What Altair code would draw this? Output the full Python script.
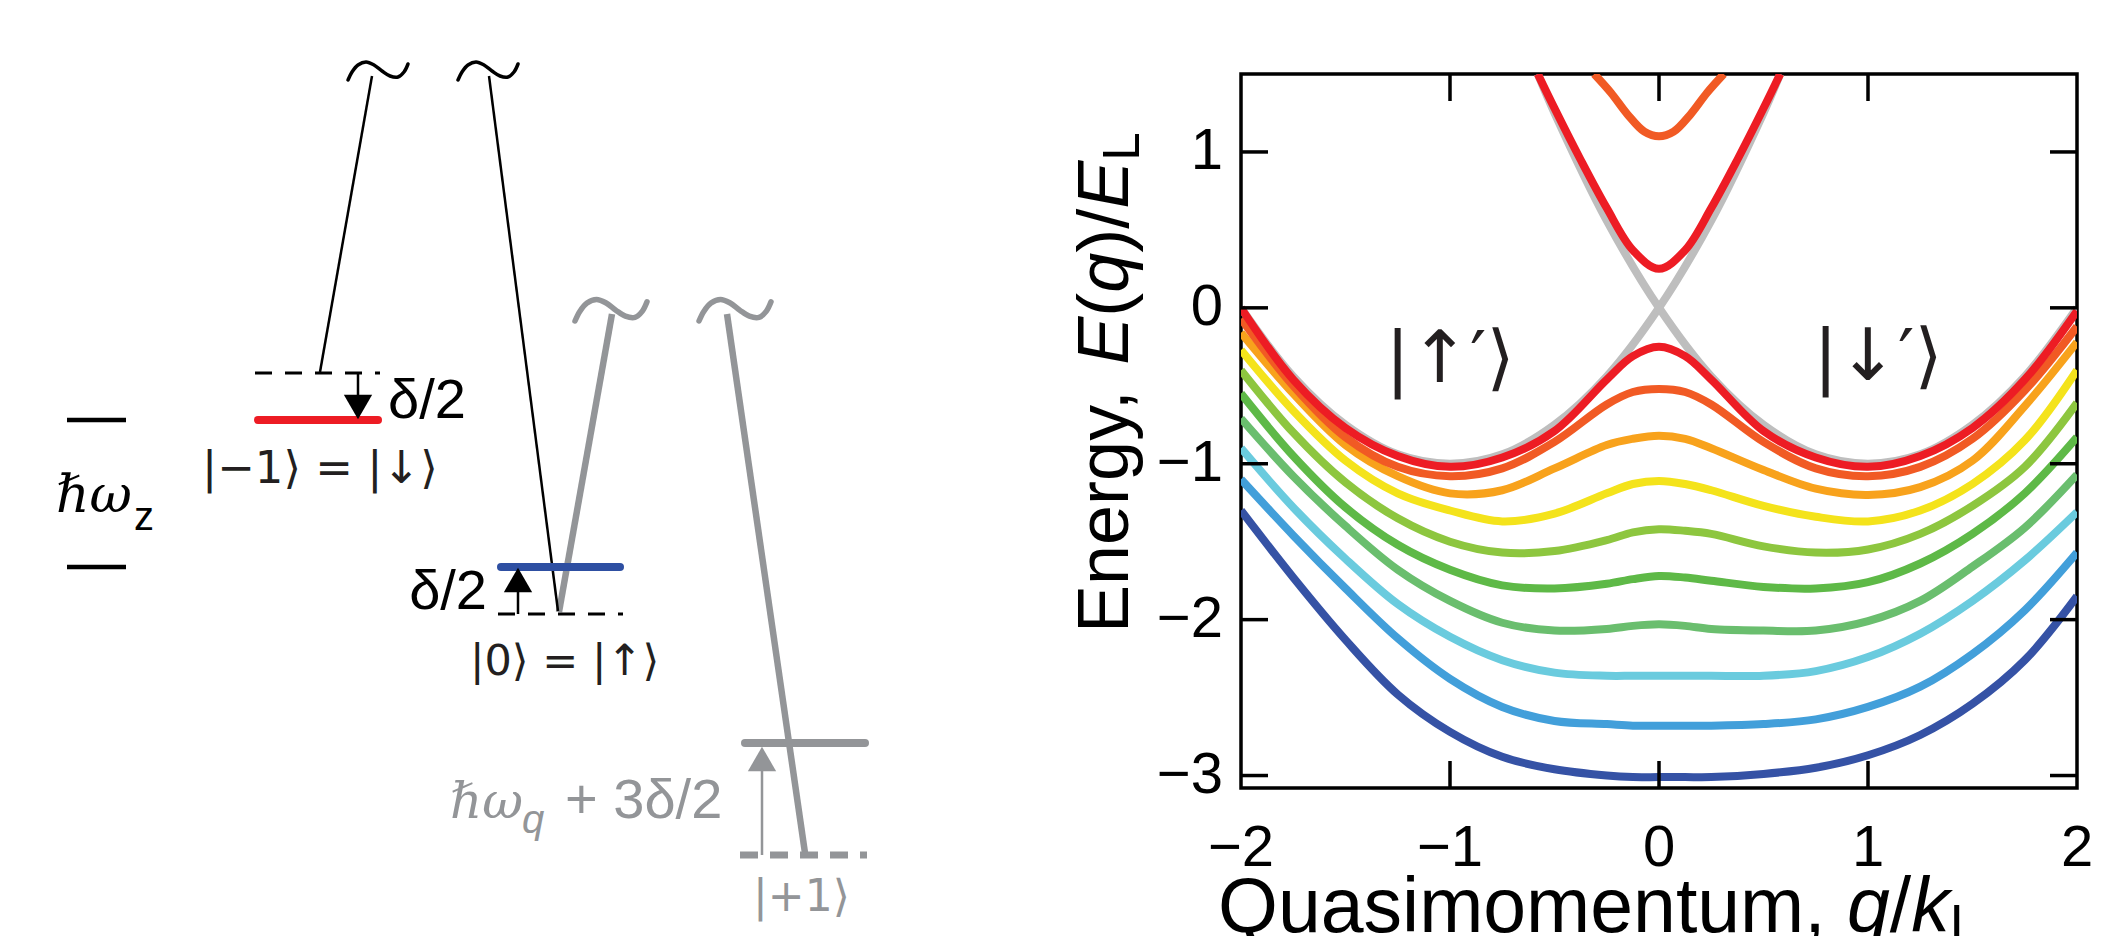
import altair as alt
import pandas as pd

# ---------------- band-structure data ----------------
Q = [-2, -1.75, -1.5, -1.25, -1, -0.75, -0.5, -0.25, -0.125, 0,
     0.125, 0.25, 0.5, 0.75, 1, 1.25, 1.5, 1.75, 2]

E_red     = [0.00, -0.46, -0.77, -0.95, -1.02, -0.96, -0.79, -0.46, -0.31, -0.25,
             -0.31, -0.46, -0.79, -0.96, -1.02, -0.95, -0.77, -0.46, -0.02]
E_redor   = [-0.07, -0.50, -0.83, -1.02, -1.08, -1.03, -0.86, -0.62, -0.54, -0.52,
             -0.54, -0.62, -0.86, -1.03, -1.08, -1.02, -0.84, -0.53, -0.12]
E_orange  = [-0.16, -0.55, -0.88, -1.08, -1.19, -1.17, -1.03, -0.88, -0.84, -0.82,
             -0.84, -0.90, -1.04, -1.16, -1.20, -1.15, -0.98, -0.63, -0.22]
E_yellow  = [-0.27, -0.66, -0.98, -1.19, -1.30, -1.37, -1.32, -1.19, -1.13, -1.11,
             -1.13, -1.17, -1.27, -1.34, -1.37, -1.30, -1.13, -0.85, -0.40]
E_ygreen  = [-0.40, -0.80, -1.12, -1.35, -1.50, -1.57, -1.56, -1.49, -1.44, -1.42,
             -1.43, -1.45, -1.53, -1.57, -1.55, -1.45, -1.27, -1.02, -0.61]
E_green   = [-0.55, -0.95, -1.28, -1.52, -1.68, -1.78, -1.80, -1.77, -1.74, -1.72,
             -1.73, -1.75, -1.79, -1.80, -1.76, -1.64, -1.45, -1.19, -0.83]
E_mgreen  = [-0.71, -1.08, -1.40, -1.68, -1.88, -2.02, -2.07, -2.06, -2.04, -2.03,
             -2.04, -2.06, -2.07, -2.07, -2.01, -1.88, -1.66, -1.41, -1.07]
E_lblue   = [-0.90, -1.28, -1.61, -1.90, -2.11, -2.26, -2.34, -2.36, -2.36, -2.36,
             -2.36, -2.36, -2.36, -2.33, -2.24, -2.09, -1.88, -1.62, -1.31]
E_blue    = [-1.10, -1.46, -1.80, -2.12, -2.38, -2.56, -2.65, -2.67, -2.68, -2.68,
             -2.68, -2.68, -2.67, -2.64, -2.56, -2.43, -2.22, -1.94, -1.57]
E_dblue   = [-1.30, -1.73, -2.13, -2.48, -2.72, -2.88, -2.96, -3.00, -3.01, -3.01,
             -3.01, -3.01, -2.99, -2.95, -2.87, -2.74, -2.54, -2.26, -1.85]

UP_RED_Q = [-0.58, -0.5, -0.375, -0.25, -0.125, 0, 0.125, 0.25, 0.375, 0.5, 0.58]
UP_RED_E = [1.50, 1.28, 0.95, 0.64, 0.37, 0.25, 0.37, 0.64, 0.95, 1.28, 1.50]
UP_OR_Q = [-0.31, -0.23, -0.15, -0.07, 0, 0.07, 0.15, 0.23, 0.31]
UP_OR_E = [1.50, 1.38, 1.24, 1.13, 1.10, 1.13, 1.24, 1.38, 1.50]

GRAY_UP_Q = [-2, -1.75, -1.5, -1.25, -1, -0.75, -0.5, -0.25, 0, 0.25, 0.5, 0.58]
GRAY_UP_E = [0, -0.44, -0.75, -0.94, -1.0, -0.94, -0.75, -0.44, 0, 0.56, 1.25, 1.5]
GRAY_DN_Q = [-0.58, -0.5, -0.25, 0, 0.25, 0.5, 0.75, 1, 1.25, 1.5, 1.75, 2]
GRAY_DN_E = [1.5, 1.25, 0.56, 0, -0.44, -0.75, -0.94, -1.0, -0.94, -0.75, -0.44, 0]

X_TICKS = [-1, 0, 1]
Y_TICKS = [-3, -2, -1, 0, 1]
X_LABEL_VALUES = [-2, -1, 0, 1, 2]
X_LABEL_TEXT = ["−2", "−1", "0", "1", "2"]
Y_LABEL_VALUES = [-3, -2, -1, 0, 1]
Y_LABEL_TEXT = ["−3", "−2", "−1", "0", "1"]

# ---------------- level-diagram geometry (page pixel positions) ----------------
SEG_BLACK_SHORT = [(67, 420, 126, 420), (67, 567, 126, 567)]
SEG_RED_LEVEL = [(258, 420, 378, 420)]
SEG_BLUE_LEVEL = [(501, 567, 620, 567)]
SEG_GRAY_LEVEL = [(745, 743, 865, 743)]
SEG_BLACK_THIN = [(372, 76, 320, 372), (489, 76, 558, 611),
                  (358, 373, 358, 400), (518, 614, 518, 590)]
SEG_GRAY_THICK = [(559, 612, 612, 314), (727, 314, 805, 853)]
SEG_GRAY_THIN = [(762, 855, 762, 768)]
SEG_BLACK_DASH = [(255, 373, 380, 373), (498, 614, 623, 614)]
SEG_GRAY_DASH = [(740, 855, 867, 855)]
ARROW_DOWN_BLACK = [(358, 407)]
ARROW_UP_BLACK = [(518, 580)]
ARROW_UP_GRAY = [(762, 759)]
TILDE_BLACK = [(378, 70), (488, 70)]
TILDE_GRAY = [(611, 309), (735, 309)]
# one wave of a tilde glyph, offsets from its centre
TILDE_DX = [-30, -26, -20, -12, -4, 4, 12, 20, 26, 30]
TILDE_DY = [10, 2, -5, -8, -5, 1, 6, 7, 2, -6]

FONT = "Liberation Sans"
KFONT = "DejaVu Sans"
GRAY = "#939598"

W, H = 836, 714
OX, OY = 1241, 74   # page position of the plot origin


def rx(v):
    return v - OX


def ry(v):
    return v - OY


xscale = alt.Scale(domain=[-2, 2], nice=False, zero=False)
yscale = alt.Scale(domain=[-3.08, 1.5], nice=False, zero=False)

layers = []


def curve(qs, es, color):
    df = pd.DataFrame({"q": qs, "E": es})
    return alt.Chart(df).mark_line(color=color, strokeWidth=8,
                                   interpolate="catmull-rom", clip=True).encode(
        x=alt.X("q:Q", scale=xscale, axis=None),
        y=alt.Y("E:Q", scale=yscale, axis=None))


layers.append(curve(GRAY_UP_Q, GRAY_UP_E, "#BEBEBE"))
layers.append(curve(GRAY_DN_Q, GRAY_DN_E, "#BEBEBE"))
for es, col in [(E_dblue, "#3552A5"), (E_blue, "#429FDA"), (E_lblue, "#6ACBDE"),
                (E_mgreen, "#6ABE6E"), (E_green, "#5EB947"), (E_ygreen, "#8DC63F"),
                (E_yellow, "#F4E31B"), (E_orange, "#F8A21C"), (E_redor, "#F15A24"),
                (E_red, "#ED1C24")]:
    layers.append(curve(Q, es, col))
layers.append(curve(UP_OR_Q, UP_OR_E, "#F15A24"))
layers.append(curve(UP_RED_Q, UP_RED_E, "#ED1C24"))

# inward ticks
TL = 27
dfy = pd.DataFrame({"v": Y_TICKS})
dfx = pd.DataFrame({"v": X_TICKS})
layers.append(alt.Chart(dfy).mark_rule(color="black", strokeWidth=3.5).encode(
    y=alt.Y("v:Q", scale=yscale, axis=None), x=alt.value(0), x2=alt.value(TL)))
layers.append(alt.Chart(dfy).mark_rule(color="black", strokeWidth=3.5).encode(
    y=alt.Y("v:Q", scale=yscale, axis=None), x=alt.value(W - TL), x2=alt.value(W)))
layers.append(alt.Chart(dfx).mark_rule(color="black", strokeWidth=3.5).encode(
    x=alt.X("v:Q", scale=xscale, axis=None), y=alt.value(H - TL), y2=alt.value(H)))
layers.append(alt.Chart(dfx).mark_rule(color="black", strokeWidth=3.5).encode(
    x=alt.X("v:Q", scale=xscale, axis=None), y=alt.value(0), y2=alt.value(TL)))

# tick labels (through the scales)
dfxl = pd.DataFrame({"v": X_LABEL_VALUES, "t": X_LABEL_TEXT})
dfyl = pd.DataFrame({"v": Y_LABEL_VALUES, "t": Y_LABEL_TEXT})
layers.append(alt.Chart(dfxl).mark_text(font=FONT, fontSize=58, color="black",
                                        align="center", baseline="alphabetic").encode(
    x=alt.X("v:Q", scale=xscale, axis=None), y=alt.value(H + 78), text=alt.Text("t:N")))
layers.append(alt.Chart(dfyl).mark_text(font=FONT, fontSize=58, color="black",
                                        align="right", baseline="middle").encode(
    y=alt.Y("v:Q", scale=yscale, axis=None), x=alt.value(-18), text=alt.Text("t:N")))


def segs(lst, **mk):
    df = pd.DataFrame({"x0": [rx(a[0]) for a in lst], "y0": [ry(a[1]) for a in lst],
                       "x1": [rx(a[2]) for a in lst], "y1": [ry(a[3]) for a in lst]})
    return alt.Chart(df).mark_rule(**mk).encode(
        x=alt.X("x0:Q", scale=None, axis=None), y=alt.Y("y0:Q", scale=None, axis=None),
        x2=alt.X2("x1:Q"), y2=alt.Y2("y1:Q"))


def pts(lst, **mk):
    df = pd.DataFrame({"x": [rx(a[0]) for a in lst], "y": [ry(a[1]) for a in lst]})
    return alt.Chart(df).mark_point(**mk).encode(
        x=alt.X("x:Q", scale=None, axis=None), y=alt.Y("y:Q", scale=None, axis=None))


def tilde(cx, cy, k, **mk):
    df = pd.DataFrame({"x": [rx(cx + k * d) for d in TILDE_DX],
                       "y": [ry(cy + k * d) for d in TILDE_DY]})
    return alt.Chart(df).mark_line(interpolate="catmull-rom", **mk).encode(
        x=alt.X("x:Q", scale=None, axis=None), y=alt.Y("y:Q", scale=None, axis=None))


def ptxt(x, y, t, **mk):
    df = pd.DataFrame({"x": [rx(x)], "y": [ry(y)], "t": [t]})
    return alt.Chart(df).mark_text(**mk).encode(
        x=alt.X("x:Q", scale=None, axis=None), y=alt.Y("y:Q", scale=None, axis=None),
        text=alt.Text("t:N"))


layers.append(segs(SEG_GRAY_THICK, color=GRAY, strokeWidth=6.5))
layers.append(segs(SEG_BLACK_SHORT, color="black", strokeWidth=4.5))
layers.append(segs(SEG_BLACK_THIN, color="black", strokeWidth=2.5))
layers.append(segs(SEG_GRAY_THIN, color=GRAY, strokeWidth=2.5))
layers.append(segs(SEG_BLACK_DASH, color="black", strokeWidth=3, strokeDash=[17, 13]))
layers.append(segs(SEG_GRAY_DASH, color=GRAY, strokeWidth=7, strokeDash=[18, 12]))
layers.append(segs(SEG_RED_LEVEL, color="#ED1C24", strokeWidth=8, strokeCap="round"))
layers.append(segs(SEG_BLUE_LEVEL, color="#2E4FA2", strokeWidth=8, strokeCap="round"))
layers.append(segs(SEG_GRAY_LEVEL, color=GRAY, strokeWidth=8, strokeCap="round"))
layers.append(pts(ARROW_DOWN_BLACK, shape="triangle-down", filled=True, size=800,
                  color="black", opacity=1))
layers.append(pts(ARROW_UP_BLACK, shape="triangle-up", filled=True, size=800,
                  color="black", opacity=1))
layers.append(pts(ARROW_UP_GRAY, shape="triangle-up", filled=True, size=800,
                  color=GRAY, opacity=1))
for (x, y) in TILDE_BLACK:
    layers.append(tilde(x, y, 1.0, color="black", strokeWidth=3.5, strokeCap="round"))
for (x, y) in TILDE_GRAY:
    layers.append(tilde(x, y, 1.2, color=GRAY, strokeWidth=5.5, strokeCap="round"))

# diagram labels
layers.append(ptxt(56, 512, "ℏω", font="DejaVu Serif", fontStyle="italic", fontSize=52,
                   color="black", align="left", baseline="alphabetic"))
layers.append(ptxt(134, 530, "z", font=FONT, fontSize=40, color="black",
                   align="left", baseline="alphabetic"))
layers.append(ptxt(388, 418, "δ/2", font=FONT, fontSize=56, color="black",
                   align="left", baseline="alphabetic"))
layers.append(ptxt(202, 483, "|−1⟩ = |↓⟩", font=KFONT, fontSize=45, color="#231F20",
                   align="left", baseline="alphabetic"))
layers.append(ptxt(487, 609, "δ/2", font=FONT, fontSize=56, color="black",
                   align="right", baseline="alphabetic"))
layers.append(ptxt(470, 675, "|0⟩ = |↑⟩", font=KFONT, fontSize=43, color="#231F20",
                   align="left", baseline="alphabetic"))
layers.append(ptxt(450, 818, "ℏω", font="DejaVu Serif", fontStyle="italic", fontSize=50,
                   color=GRAY, align="left", baseline="alphabetic"))
layers.append(ptxt(522, 833, "q", font=FONT, fontStyle="italic", fontSize=40, color=GRAY,
                   align="left", baseline="alphabetic"))
layers.append(ptxt(565, 818, "+ 3δ/2", font=FONT, fontSize=56, color=GRAY,
                   align="left", baseline="alphabetic"))
layers.append(ptxt(753, 911, "|+1⟩", font=KFONT, fontSize=44, color=GRAY,
                   align="left", baseline="alphabetic"))

# state labels in the band plot
layers.append(ptxt(1450, 382, "|↑′⟩", font=KFONT, fontSize=72, color="#231F20",
                   align="center", baseline="alphabetic"))
layers.append(ptxt(1878, 380, "|↓′⟩", font=KFONT, fontSize=72, color="#231F20",
                   align="center", baseline="alphabetic"))

# axis titles built from pieces (italic symbols, subscripts)
EMW = {'Q': .778, 'u': .556, 'a': .556, 's': .5, 'i': .222, 'm': .833, 'o': .556,
       'e': .556, 'n': .556, 't': .278, ',': .278, ' ': .278, 'q': .556, '/': .278,
       'k': .5, 'L': .556, 'E': .667, 'r': .333, 'g': .556, 'y': .5, '(': .333, ')': .333}


def tw(s, size):
    return sum(EMW.get(c, .556) for c in s) * size


XT_PIECES = ["Quasimomentum,", "q", "/", "k", "L"]
XT_ADV = ["Quasimomentum, ", "q", "/", "k", "L"]
XT_ITAL = [False, True, False, True, False]
XT_SIZE = [77, 77, 77, 77, 54]
XT_SHIFT = [0, 0, 0, 0, 10]
cx = 1218
for p, a, it, sz, sh in zip(XT_PIECES, XT_ADV, XT_ITAL, XT_SIZE, XT_SHIFT):
    mk = dict(font=FONT, fontSize=sz, color="black", align="left", baseline="alphabetic")
    if it:
        mk["fontStyle"] = "italic"
    layers.append(ptxt(cx, 932 + sh, p, **mk))
    cx += tw(a, sz)

YT_PIECES = ["Energy,", "E", "(", "q", ")/", "E", "L"]
YT_ADV = ["Energy, ", "E", "(", "q", ")/", "E", "L"]
YT_ITAL = [False, True, False, True, False, True, False]
YT_SIZE = [72, 72, 72, 72, 72, 72, 51]
YT_SHIFT = [0, 0, 0, 0, 0, 0, 11]
cy = 633
for p, a, it, sz, sh in zip(YT_PIECES, YT_ADV, YT_ITAL, YT_SIZE, YT_SHIFT):
    mk = dict(font=FONT, fontSize=sz, color="black", align="left", baseline="alphabetic",
              angle=270)
    if it:
        mk["fontStyle"] = "italic"
    layers.append(ptxt(1128 + sh, cy, p, **mk))
    cy -= tw(a, sz)

chart = alt.layer(*layers).properties(
    width=W, height=H,
    padding={"left": OX - 8, "top": OY - 8, "right": 16, "bottom": 180},
    autosize=alt.AutoSizeParams(type="none"),
).configure_view(stroke="black", strokeWidth=3.5)

chart.save("out.html", embed_options={"renderer": "svg", "actions": False})
